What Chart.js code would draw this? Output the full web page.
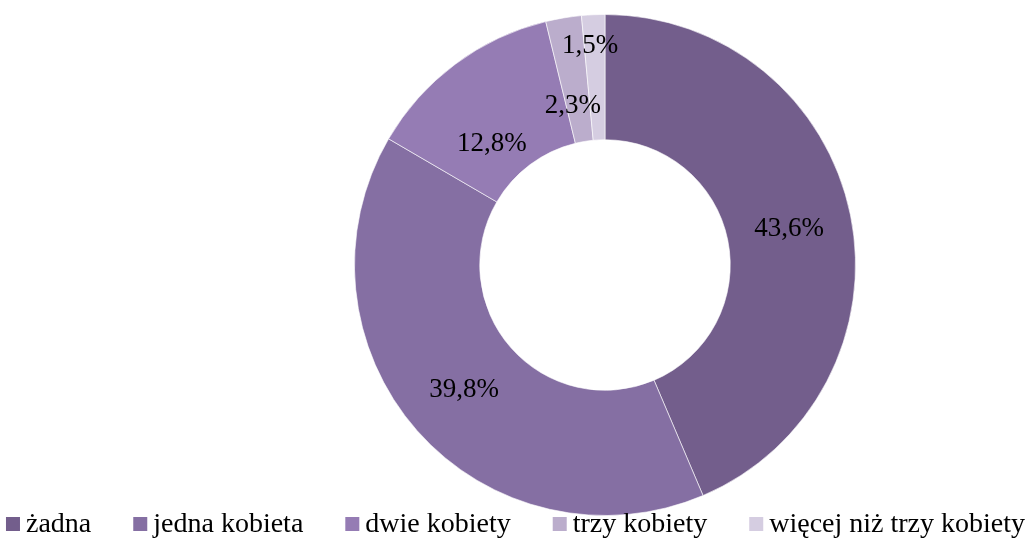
<!DOCTYPE html>
<html>
<head>
<meta charset="utf-8">
<script src="https://cdn.jsdelivr.net/npm/chart.js@4"></script>
<style>
  html, body { margin: 0; padding: 0; background: #fff; }
  .chart-container { position: relative; width: 1031px; height: 539px; }
</style>
</head>
<body>
<div class="chart-container">
  <canvas id="chart"></canvas>
</div>
<script>
// Number of women on the board
const categories = ['żadna', 'jedna kobieta', 'dwie kobiety', 'trzy kobiety', 'więcej niż trzy kobiety'];
const shares = [43.6, 39.8, 12.8, 2.3, 1.5];
const colors = ['#735E8C', '#856FA3', '#957CB4', '#BBADCC', '#D5CDE1'];

const FONT = '"Liberation Serif", "DejaVu Serif", serif';

// small slices get their label nudged (ring fraction, angle shift in degrees)
const labelPlacement = {
  2: { r: 0.33, da: -6 },
  3: { r: 0.30, da: -1.8 },
  4: { r: 0.76, da: -1.2 }
};

const sliceLabels = {
  id: 'sliceLabels',
  afterDatasetsDraw(chart) {
    const ctx = chart.ctx;
    const meta = chart.getDatasetMeta(0);
    ctx.save();
    ctx.font = '27px ' + FONT;
    ctx.fillStyle = '#000';
    ctx.textAlign = 'center';
    ctx.textBaseline = 'middle';
    meta.data.forEach((arc, i) => {
      const p = arc.getProps(['x', 'y', 'startAngle', 'endAngle', 'innerRadius', 'outerRadius']);
      const place = labelPlacement[i] || { r: 0.5, da: 0 };
      const a = (p.startAngle + p.endAngle) / 2 + place.da * Math.PI / 180;
      const r = p.innerRadius + (p.outerRadius - p.innerRadius) * place.r;
      const text = shares[i].toFixed(1).replace('.', ',') + '%';
      ctx.fillText(text, p.x + Math.cos(a) * r, p.y + Math.sin(a) * r + 1);
    });
    ctx.restore();
  }
};

// legend row drawn across the bottom edge
const bottomLegend = {
  id: 'bottomLegend',
  afterDraw(chart) {
    const ctx = chart.ctx;
    const box = 14, textGap = 6, itemGap = 42;
    const y = 524;
    ctx.save();
    ctx.font = '28px ' + FONT;
    const widths = categories.map(c => ctx.measureText(c).width);
    const total = widths.reduce((s, w) => s + box + textGap + w, 0) + itemGap * (categories.length - 1);
    let x = (chart.width - total) / 2;
    ctx.textBaseline = 'middle';
    categories.forEach((c, i) => {
      ctx.fillStyle = colors[i];
      ctx.fillRect(x, y - box / 2, box, box);
      ctx.fillStyle = '#000';
      ctx.fillText(c, x + box + textGap, y + 1);
      x += box + textGap + widths[i] + itemGap;
    });
    ctx.restore();
  }
};

new Chart(document.getElementById('chart').getContext('2d'), {
  type: 'doughnut',
  data: {
    labels: categories,
    datasets: [{
      data: shares,
      backgroundColor: colors,
      borderColor: 'rgba(255,255,255,0.6)',
      borderWidth: 1
    }]
  },
  options: {
    responsive: true,
    maintainAspectRatio: false,
    animation: false,
    cutout: '50%',
    layout: {
      padding: { top: 14, bottom: 23, left: 354, right: 175 }
    },
    plugins: {
      legend: { display: false },
      tooltip: { enabled: false }
    }
  },
  plugins: [sliceLabels, bottomLegend]
});
</script>
</body>
</html>
